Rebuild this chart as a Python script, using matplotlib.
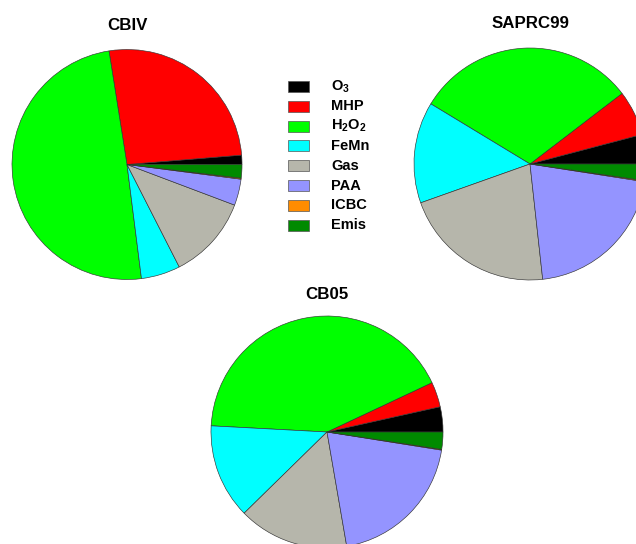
import matplotlib
matplotlib.use("Agg")
import matplotlib.pyplot as plt
from matplotlib.patches import Rectangle

plt.rcParams["font.family"] = ["Liberation Sans", "DejaVu Sans"]
plt.rcParams["mathtext.fontset"] = "custom"
plt.rcParams["mathtext.rm"] = "Liberation Sans:bold"
plt.rcParams["mathtext.bf"] = "Liberation Sans:bold"
plt.rcParams["mathtext.default"] = "bf"

W, H = 636, 544

SOURCES = ["O$_3$", "MHP", "H$_2$O$_2$", "FeMn", "Gas", "PAA", "ICBC", "Emis"]
COLORS = ["#000000", "#ff0000", "#00ff00", "#00ffff", "#b6b6ab", "#9494ff", "#ff8c00", "#008a00"]

# fractional contributions (%), counter-clockwise from 3 o'clock
CBIV = [1.3, 26.2, 49.5, 5.5, 11.75, 3.7, 0.14, 1.9]
SAPRC99 = [4.1, 6.3, 30.9, 14.1, 21.3, 20.8, 0.14, 2.3]
CB05 = [3.5, 3.5, 42.2, 13.2, 15.4, 19.8, 0.1, 2.4]

fig = plt.figure(figsize=(W / 100, H / 100), dpi=100)
fig.patch.set_facecolor("white")


def pie_axes(cx, cy, r):
    # pixel centre (from top-left) and radius -> figure-fraction axes
    return fig.add_axes([(cx - r) / W, (H - cy - r) / H, 2 * r / W, 2 * r / H])


def draw_pie(vals, cx, cy, r, title, ty):
    ax = pie_axes(cx, cy, r)
    ax.pie(vals, colors=COLORS, startangle=0, counterclock=True, radius=1,
           wedgeprops=dict(edgecolor="#333333", linewidth=0.45))
    ax.set_xlim(-1, 1)
    ax.set_ylim(-1, 1)
    ax.set_aspect("equal")
    ax.axis("off")
    fig.text(cx / W, 1 - ty / H, title, ha="center", va="center",
             fontsize=12.2, fontweight="bold")


draw_pie(CBIV, 127, 164.5, 115, "CBIV", 25)
draw_pie(SAPRC99, 530, 164, 116, "SAPRC99", 23.5)
draw_pie(CB05, 327, 432, 116, "CB05", 294.5)

# legend, laid out in pixel units
lax = fig.add_axes([0, 0, 1, 1], facecolor="none")
lax.set_xlim(0, W)
lax.set_ylim(H, 0)
lax.axis("off")
y0, dy = 86.7, 19.76
for i, (name, col) in enumerate(zip(SOURCES, COLORS)):
    y = y0 + i * dy
    lax.add_patch(Rectangle((288, y - 5.5), 21, 11, facecolor=col,
                            edgecolor="#555555", linewidth=0.5))
    lax.text(331, y, name, ha="left", va="center", fontsize=10.5, fontweight="bold")

fig.savefig("out.png", dpi=100, facecolor="white")
